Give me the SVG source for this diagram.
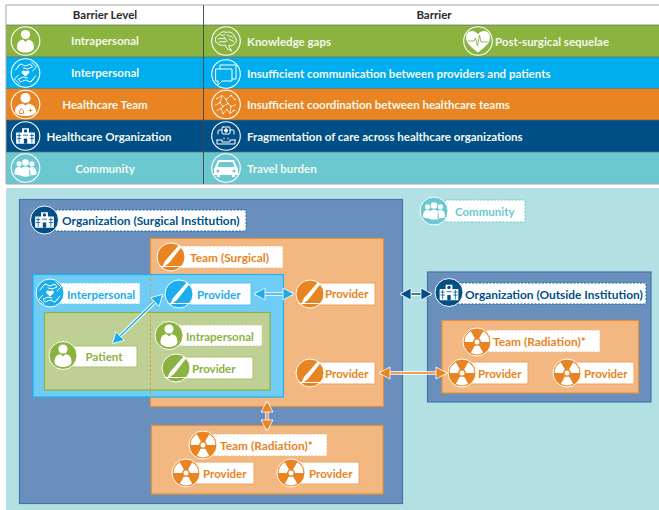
<svg xmlns="http://www.w3.org/2000/svg" width="659" height="510" viewBox="0 0 659 510">
<style>
text{font-family:"Lato","Liberation Sans",sans-serif;font-weight:700;font-size:11.5px;dominant-baseline:central;transform:translateY(-1px)}
.big{font-size:11.9px}
.tw{fill:#f4f8ee}
.hd{fill:#2b2b2b;font-size:11.5px;text-anchor:middle}
.m{text-anchor:middle}
.ring{fill:none;stroke:#fff;stroke-width:1.1}
.s{fill:none;stroke:#fff;stroke-width:1;stroke-linecap:round;stroke-linejoin:round}
.w{fill:#fff}
.badge>circle{stroke:#fff;stroke-width:1;fill:var(--b)}
.cut{fill:none;stroke:var(--b,#004f86);stroke-width:.9}
.win{fill:var(--b,#004f86)}
.g{--b:#8ab33f}.b{--b:#1badee}.o{--b:#e88422}.n{--b:#004f86}.t{--b:#6bc8d0}
.box{fill:#fff;stroke-width:1}
.dash{stroke-dasharray:2 1.5}
.lg{stroke:#a6c56c}.lb{stroke:#5cc4f0}.lo{stroke:#f0a35c}.ln{stroke:#1b6699}.lt{stroke:#8fd4da}
.cg{fill:#8ab33f}.cb{fill:#1badee}.co{fill:#e88422}.cn{fill:#00508a}.ct{fill:#6bc8d0}
.area{stroke-width:1.2}
.halo{stroke:#fff;stroke-width:3.4;fill:none}
.ab{stroke:#1badee;stroke-width:1.5;fill:none}
.an{stroke:#004f86;stroke-width:1.5;fill:none}
.ao{stroke:#e88422;stroke-width:1.5;fill:none}
</style>
<defs>
<marker id="mb" viewBox="-1 -7 13 14" markerWidth="13" markerHeight="14" markerUnits="userSpaceOnUse" refX="10" refY="0" orient="auto-start-reverse"><path d="M0,-6L11,0L0,6Z" fill="#1badee" stroke="#fff" stroke-width=".8"/></marker>
<marker id="mn" viewBox="-1 -7 13 14" markerWidth="13" markerHeight="14" markerUnits="userSpaceOnUse" refX="10" refY="0" orient="auto-start-reverse"><path d="M0,-6L11,0L0,6Z" fill="#004f86" stroke="#fff" stroke-width=".8"/></marker>
<marker id="mo" viewBox="-1 -7 13 14" markerWidth="13" markerHeight="14" markerUnits="userSpaceOnUse" refX="10" refY="0" orient="auto-start-reverse"><path d="M0,-6L11,0L0,6Z" fill="#e88422" stroke="#fff" stroke-width=".8"/></marker>
<g id="person"><circle class="w" cy="-6.500" r="4.600"/><path class="w" d="M-2.600,-1.500C-7,-.5-8.500,2-8.500,6.500C-8.500,10-4,11.500,0,11.500S8.500,10,8.500,6.500C8.500,2,7,-.5,2.600,-1.500L0,1Z"/></g>
<g id="hands"><path class="s" d="M-10,-3L-5,-9L0,-7L5,-9L7,-6L2,-4L-2,-5M6,-11L11,-6L7,-2M-5,-9L-8,-6"/><path class="s" d="M10,3L5,9L0,7L-5,9L-7,6L-2,4L2,5M-6,11L-11,6L-7,2M5,9L8,6"/><path class="w" d="M0,3.500L-3.500,.3C-5,-2-2,-3.500,0,-1.500C2,-3.500,5,-2,3.500,.3Z"/></g>
<g id="doctor"><circle class="w" cy="-6.500" r="5"/><path class="w" d="M-3,-1C-8,0-10.500,3-10.500,7C-10.500,10-5,11.500,0,11.500S10.500,10,10.500,7C10.500,3,8,0,3,-1L0,1Z"/><path class="cut" d="M-6,6.500L-4,4L-2,6.500V9H-6ZM3,6H7M5,4V8"/></g>
<g id="hospital"><g transform="scale(.85)"><path class="w" d="M-4,-9H4V-4H11V9H-11V-4H-4Z"/><circle class="win" cy="-6" r="2"/><path class="cut" d="M-10,-.5H-5M-10,3H-5M-7.500,-3V8M5,-.5H10M5,3H10M7.500,-3V8M-3,-1H3"/><rect class="win" x="-2" y="3" width="4" height="6"/></g></g>
<g id="group"><g transform="scale(.92)"><circle class="w" cx="-7" cy="-4.500" r="2.800"/><circle class="w" cx="7" cy="-4.500" r="2.800"/><circle class="w" cy="-6" r="3.600"/><path class="w" d="M-12,6C-12,0-9,-1-7,-1C-5,-1-4,0-4,1L-4,8C-8,8-12,8-12,6ZM12,6C12,0,9,-1,7,-1C5,-1,4,0,4,1L4,8C8,8,12,8,12,6ZM-5.500,8C-5.500,2-4,-1.500,0,-1.500S5.500,2,5.500,8C5.500,10-5.500,10-5.500,8Z"/></g></g>
<g id="brain"><path class="s" d="M-10,1C-12,-3-9,-6-7,-6C-6,-9-2,-10,0,-8.500C3,-10,8,-8,8,-5C11,-3,11,2,8,3C7,5,4,5,3,4L3,6L6,10L1,7.500L-1,4C-4,5-8,4-10,1Z"/><path class="s" d="M-8,-2C-5,-4-3,-1-1,-3M-5,-6C-3,-5-2,-6-1,-7M1,-6C3,-4,6,-6,7,-3M-7,1C-4,0-2,2,1,0M3,-2C5,0,7,-1,8,1M-2,-4L0,-1"/></g>
<g id="heart"><path class="w" d="M0,11.500C-6,7-12,2.500-12,-3.500C-12,-8-8.500,-10-6,-10C-3.500,-10-1,-8.500,0,-6.500C1,-8.500,3.500,-10,6,-10C8.500,-10,12,-8,12,-3.500C12,2.500,6,7,0,11.500Z"/><path class="cut" style="stroke:#8ab33f" d="M-10,0H-4L-2.500,-3L-.5,5L1.500,-6L3,1H10"/></g>
<g id="chat"><path class="s" d="M-6,-5V-9H10V5H6"/><path class="s" d="M-10,-5H6V7H-4L-8,11V7H-10Z"/></g>
<g id="net"><g class="s" style="stroke-width:.7"><path d="M-9,-6L-4,-9L0,-5L5,-9L9,-5M-11,1L-6,-2L-3,2L2,-1L5,2L10,0M-9,6L-5,4L-3,9L1,5L4,9L8,6M-6,-2L-4,-9M0,-5L2,-1M-3,2L-5,4M5,2L4,9"/></g><g class="w"><circle cx="-9" cy="-6" r=".8"/><circle cx="0" cy="-5" r=".8"/><circle cx="5" cy="-9" r=".8"/><circle cx="9" cy="-5" r=".8"/><circle cx="-6" cy="-2" r=".8"/><circle cx="2" cy="-1" r=".8"/><circle cx="-3" cy="2" r=".8"/><circle cx="5" cy="2" r=".8"/><circle cx="-5" cy="4" r=".8"/><circle cx="1" cy="5" r=".8"/><circle cx="8" cy="6" r=".8"/><circle cx="-3" cy="9" r=".8"/></g></g>
<g id="kit"><path class="s" d="M-8,-2V-5Q-8,-6-7,-6H-4M4,-6H7Q8,-6,8,-5V-2M-9,4V8H9V4M-9,4H-4V6H4V4H9"/><rect class="s" x="-4" y="-9" width="8" height="7" rx="1"/><path class="w" d="M-1,-7.500H1V-6.500H2V-4.500H1V-3.500H-1V-4.500H-2V-6.500H-1Z"/><path class="s" d="M-2,3V2M2,3V2"/></g>
<g id="car"><path class="w" d="M-8,-8H8L11,-1L12,1V7H9V9H6V7H-6V9H-9V7H-12V1L-11,-1Z"/><path d="M-6.500,-6H6.500L8.500,-1H-8.500Z" fill="#6bc8d0"/><circle cx="-8" cy="3" r="1.500" fill="#6bc8d0"/><circle cx="8" cy="3" r="1.500" fill="#6bc8d0"/></g>
<g id="scalpel"><path class="w" d="M8,-12L10.500,-10L-2,6L-9.500,11.500L-6,4Z"/><path class="s" d="M-11,9.500H11"/></g>
<g id="rad"><path id="blade" class="w" d="M2.200,3.800L6.200,10.700A12.400,12.400,0,0,1,-6.200,10.700L-2.200,3.800Z"/><use href="#blade" transform="rotate(120)"/><use href="#blade" transform="rotate(240)"/><circle class="w" r="2.500"/></g>
</defs>

<g id="table">
<rect x="6" y="25" width="653" height="32" class="cg"/>
<rect x="6" y="57" width="653" height="31.500" fill="#00aeef"/>
<rect x="6" y="88.500" width="653" height="31.500" fill="#e88422"/>
<rect x="6" y="120" width="653" height="32" fill="#004f86"/>
<rect x="6" y="152" width="653" height="32" fill="#6bc8d0"/>
<path d="M6,5H659M6,184H659" stroke="#a8a8a8" stroke-width="1.200"/>
<path d="M6,5V184" stroke="#a8a8a8"/>
<path d="M6,25H659M6,57H659M6,88.500H659M6,120H659M6,152H659" stroke="#5f6b6b" stroke-width=".7"/>
<path d="M203.500,5V184" stroke="#444" stroke-width=".9"/>
<text class="hd" x="105" y="15">Barrier Level</text>
<text class="hd" x="434" y="15">Barrier</text>
<g id="row-intrapersonal" class="g"><circle class="ring" cx="25.500" cy="41" r="14.300"/><use href="#person" x="25.500" y="41"/><text class="tw m" x="105" y="41.500">Intrapersonal</text><circle class="ring" cx="226" cy="41" r="14.300"/><use href="#brain" x="226" y="41"/><text class="tw" x="247" y="42">Knowledge gaps</text><circle class="ring" cx="478" cy="41" r="14.300"/><use href="#heart" x="478" y="41"/><text class="tw" x="495" y="42">Post-surgical sequelae</text></g>
<g id="row-interpersonal" class="b"><circle class="ring" cx="25.500" cy="73" r="14.300"/><use href="#hands" x="25.500" y="73"/><text class="tw m" x="105" y="73.500">Interpersonal</text><circle class="ring" cx="226" cy="74" r="14.300"/><use href="#chat" x="226" y="74"/><text class="tw" x="247" y="74">Insufficient communication between providers and patients</text></g>
<g id="row-team" class="o"><circle class="ring" cx="25.500" cy="104.500" r="14.300"/><use href="#doctor" x="25.500" y="104.500"/><text class="tw m" x="105" y="105.500">Healthcare Team</text><circle class="ring" cx="226" cy="104.500" r="14.300"/><use href="#net" x="226" y="104.500"/><text class="tw" x="247" y="105.500">Insufficient coordination between healthcare teams</text></g>
<g id="row-organization" class="n"><circle class="ring" cx="25.500" cy="136" r="14.300"/><use href="#hospital" x="25.500" y="136"/><text class="tw m" x="109" y="137">Healthcare Organization</text><circle class="ring" cx="226" cy="136" r="14.300"/><use href="#kit" x="226" y="136"/><text class="tw" x="247" y="137">Fragmentation of care across healthcare organizations</text></g>
<g id="row-community" class="t"><circle class="ring" cx="25.500" cy="168" r="14.300"/><use href="#group" x="25.500" y="168"/><text class="tw m" x="105" y="169">Community</text><circle class="ring" cx="226" cy="168" r="14.300"/><use href="#car" x="226" y="168"/><text class="tw" x="247" y="169">Travel burden</text></g>
</g>

<g id="regions">
<rect x="6" y="188" width="653" height="322" fill="#b3e0e2"/>
<rect class="area" x="19.500" y="199.500" width="383" height="304" fill="#6a8fbc" stroke="#3d7aab"/>
<rect class="area" x="150.500" y="238.500" width="233" height="168" fill="#f3b882" stroke="#e8913a"/>
<rect class="area" x="33" y="274.500" width="250.500" height="122.500" fill="#6fcdf5" stroke="#1fb0ee"/>
<rect class="area" x="44.500" y="312.500" width="225.500" height="77.500" fill="#bfd094" stroke="#8ab33f"/>
<path d="M150.500,274.500V397" fill="none" stroke="#e8913a" stroke-width=".9" stroke-dasharray="2.500 2"/>
<rect class="area" x="151.500" y="425.500" width="231.500" height="68.500" fill="#f3b882" stroke="#e8913a"/>
<rect class="area" x="427.500" y="272" width="223.500" height="130" fill="#6a8fbc" stroke="#3d7aab"/>
<rect class="area" x="442" y="320.500" width="196.500" height="72.500" fill="#f3b882" stroke="#e8913a"/>
</g>

<g id="connectors">
<path class="halo" d="M255,294H293M162,295L113,343M401,294H431M380,373H446M267,402V430"/>
<path class="ab" d="M255,294H293" marker-start="url(#mb)" marker-end="url(#mb)"/>
<path class="ab" d="M162,295L113,343" marker-start="url(#mb)" marker-end="url(#mb)"/>
<path class="an" d="M401,294H431" marker-start="url(#mn)" marker-end="url(#mn)"/>
<path class="ao" d="M380,373H446" marker-start="url(#mo)" marker-end="url(#mo)"/>
<path class="ao" d="M267,402V430" marker-start="url(#mo)" marker-end="url(#mo)"/>
</g>

<g id="org-surgical" class="n"><rect class="box dash" x="55" y="210" width="191" height="21" style="stroke:#1b6699"/><g class="badge" transform="translate(44.500 220)"><circle r="14"/><use href="#hospital"/></g><text class="cn big" x="62" y="221.500">Organization (Surgical Institution)</text></g>
<g id="team-surgical" class="o"><rect class="box dash" x="178" y="246" width="105" height="22" style="stroke:#f3b882"/><g class="badge" transform="translate(171 257)"><circle r="14"/><use href="#scalpel"/></g><text class="co big" x="190" y="258">Team (Surgical)</text></g>
<g id="interpersonal" class="b"><rect class="box dash" x="60" y="283" width="80" height="21" style="stroke:#6fcdf5"/><g class="badge" transform="translate(50 293)"><circle r="14"/><use href="#hands"/></g><text class="cb" x="67" y="295">Interpersonal</text></g>
<g id="provider-blue" class="b"><rect class="box lb" x="190" y="283" width="61" height="22"/><g class="badge" transform="translate(179 294)"><circle r="14"/><use href="#scalpel"/></g><text class="cb" x="197" y="295">Provider</text></g>
<g id="patient" class="g"><rect class="box lg" x="70" y="346" width="67" height="21"/><g class="badge" transform="translate(63 355.500)"><circle r="14"/><use href="#person"/></g><text class="cg m" x="104" y="357">Patient</text></g>
<g id="intrapersonal" class="g"><rect class="box dash" x="178" y="325" width="84" height="21" style="stroke:#bfd094"/><g class="badge" transform="translate(169 335.500)"><circle r="14"/><use href="#person"/></g><text class="cg" x="186" y="337">Intrapersonal</text></g>
<g id="provider-green" class="g"><rect class="box lg" x="185" y="357" width="68" height="22"/><g class="badge" transform="translate(176 368)"><circle r="14"/><use href="#scalpel"/></g><text class="cg" x="192" y="369">Provider</text></g>
<g id="provider-surgical-1" class="o"><rect class="box lo" x="318" y="283" width="57" height="22"/><g class="badge" transform="translate(310 294)"><circle r="14"/><use href="#scalpel"/></g><text class="co" x="325" y="294.500">Provider</text></g>
<g id="provider-surgical-2" class="o"><rect class="box lo" x="318" y="362" width="57" height="22"/><g class="badge" transform="translate(310 373)"><circle r="14"/><use href="#scalpel"/></g><text class="co" x="325" y="374">Provider</text></g>
<g id="community" class="t"><rect class="box dash" x="445" y="200" width="80" height="22" style="stroke:#6bc8d0"/><g class="badge" transform="translate(434 211)"><circle r="14"/><use href="#group"/></g><text class="ct" x="455" y="212">Community</text></g>
<g id="org-outside" class="n"><rect class="box dash" x="458" y="283" width="188" height="21" style="stroke:#1b6699"/><g class="badge" transform="translate(449 292.500)"><circle r="14"/><use href="#hospital"/></g><text class="cn big" x="465" y="295">Organization (Outside Institution)</text></g>
<g id="team-radiation-outside" class="o"><rect class="box dash" x="487" y="330" width="113" height="22" style="stroke:#f3b882"/><g class="badge" transform="translate(477 342)"><circle r="14"/><use href="#rad"/></g><text class="co big" x="493" y="342.500">Team (Radiation)*</text></g>
<g id="provider-outside-1" class="o"><rect class="box lo" x="470" y="362" width="58" height="22"/><g class="badge" transform="translate(462 373)"><circle r="14"/><use href="#rad"/></g><text class="co" x="478" y="374">Provider</text></g>
<g id="provider-outside-2" class="o"><rect class="box lo" x="575" y="362" width="59" height="22"/><g class="badge" transform="translate(567 373)"><circle r="14"/><use href="#rad"/></g><text class="co" x="584" y="374">Provider</text></g>
<g id="team-radiation-lower" class="o"><rect class="box dash" x="212" y="434" width="115" height="22" style="stroke:#f3b882"/><g class="badge" transform="translate(203 445)"><circle r="14"/><use href="#rad"/></g><text class="co big" x="220" y="446">Team (Radiation)*</text></g>
<g id="provider-lower-1" class="o"><rect class="box lo" x="195" y="462" width="59" height="22"/><g class="badge" transform="translate(186 473)"><circle r="14"/><use href="#rad"/></g><text class="co" x="203" y="474">Provider</text></g>
<g id="provider-lower-2" class="o"><rect class="box lo" x="300" y="462" width="59" height="22"/><g class="badge" transform="translate(291 473)"><circle r="14"/><use href="#rad"/></g><text class="co" x="309" y="474">Provider</text></g>
</svg>
